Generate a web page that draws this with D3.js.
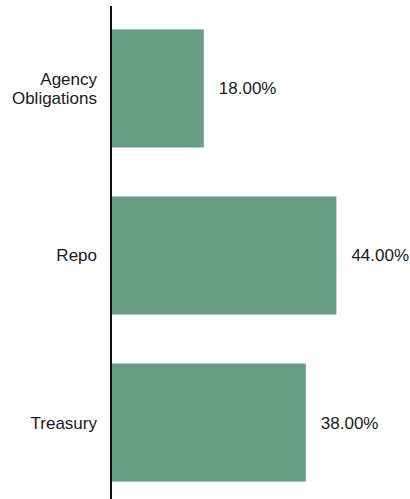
<!DOCTYPE html>
<html>
<head>
<meta charset="utf-8">
<script src="https://cdn.jsdelivr.net/npm/d3@7"></script>
<style>
html,body{margin:0;padding:0;background:#fff;}
svg{display:block;}
text{font-family:"Liberation Sans",Arial,sans-serif;fill:#1a1a1a;}
</style>
</head>
<body>
<svg id="chart" width="410" height="499"></svg>
<script>
const categories = ["Agency Obligations", "Repo", "Treasury"];
const labelLines = [["Agency", "Obligations"], ["Repo"], ["Treasury"]];
const values = [18, 44, 38];
const valueLabels = ["18.00%", "44.00%", "38.00%"];

const svg = d3.select("#chart");
const x0 = 112;
const x = d3.scaleLinear().domain([0, 50]).range([x0, x0 + 255]);
const y = d3.scaleBand().domain(categories).range([5, 506]).paddingInner(0.293).paddingOuter(0.146);

const fontSize = 17;

svg.selectAll("rect.bar").data(categories).join("rect")
  .attr("class", "bar")
  .attr("x", x(0))
  .attr("y", d => y(d))
  .attr("width", (d, i) => x(values[i]) - x(0))
  .attr("height", y.bandwidth())
  .attr("fill", "#669e85");

svg.selectAll("text.val").data(categories).join("text")
  .attr("class", "val")
  .attr("x", (d, i) => x(values[i]) + 15)
  .attr("y", d => y(d) + y.bandwidth() / 2)
  .attr("dy", "0.35em")
  .style("font-size", fontSize + "px")
  .text((d, i) => valueLabels[i]);

const lineH = 19;
const lab = svg.selectAll("text.cat").data(categories).join("text")
  .attr("class", "cat")
  .attr("text-anchor", "end")
  .style("font-size", fontSize + "px")
  .attr("transform", d => `translate(97,${y(d) + y.bandwidth() / 2})`);
lab.each(function(d, i) {
  const lines = labelLines[i];
  const n = lines.length;
  d3.select(this).selectAll("tspan").data(lines).join("tspan")
    .attr("x", 0)
    .attr("y", (l, j) => (j - (n - 1) / 2) * lineH)
    .attr("dy", "0.35em")
    .text(l => l);
});

svg.append("line")
  .attr("x1", x0 - 1).attr("x2", x0 - 1)
  .attr("y1", 6).attr("y2", 499)
  .attr("stroke", "#111")
  .attr("stroke-width", 2);
</script>
</body>
</html>
